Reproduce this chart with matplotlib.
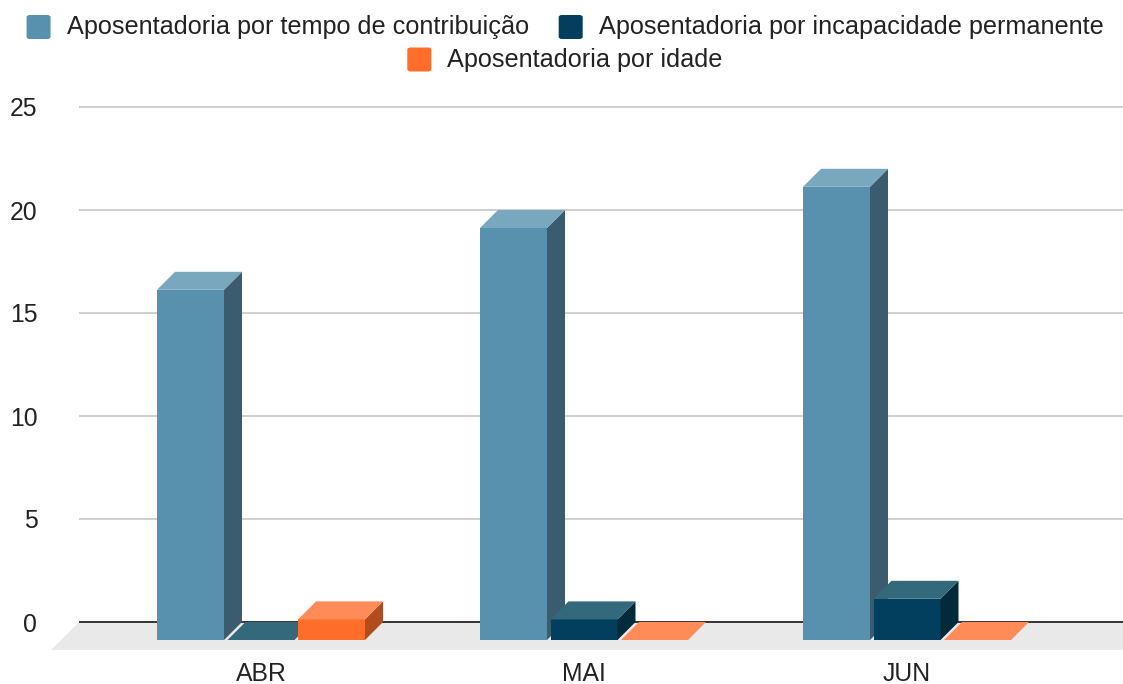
import matplotlib
matplotlib.use("Agg")
import matplotlib.pyplot as plt
from matplotlib.patches import Polygon, FancyBboxPatch

plt.rcParams['font.family'] = ['Liberation Sans', 'DejaVu Sans']

categories = ["ABR", "MAI", "JUN"]
series_names = ["Aposentadoria por tempo de contribuição",
                "Aposentadoria por incapacidade permanente",
                "Aposentadoria por idade"]
tempo_contribuicao = [17, 20, 22]
incapacidade_permanente = [0, 1, 2]
idade = [1, 0, 0]
y_ticks = [0, 5, 10, 15, 20, 25]

series_values = [tempo_contribuicao, incapacidade_permanente, idade]
front_colors = ["#5891ad", "#023f5f", "#ff6d2b"]
top_colors = ["#79a7be", "#34697c", "#ff8b58"]
side_colors = ["#3b5b6f", "#012a3b", "#b24b1d"]

W, H = 1123, 684
fig = plt.figure(figsize=(W / 100, H / 100), dpi=100)

# layout (pixels from top-left)
ax_left, ax_right = 79, 1123
y0_px, y25_px = 622, 107
ppu = (y0_px - y25_px) / 25.0
ymin, ymax = -1.5, 25.5
bottom_px = y0_px + (0 - ymin) * ppu
top_px = y0_px - ymax * ppu
ax = fig.add_axes([ax_left / W, (H - bottom_px) / H,
                   (ax_right - ax_left) / W, (bottom_px - top_px) / H])
cat_step_px = 323.0
first_center_back_px = 279.0
xmin = -(first_center_back_px - ax_left) / cat_step_px
xmax = xmin + (ax_right - ax_left) / cat_step_px
ax.set_xlim(xmin, xmax)
ax.set_ylim(ymin, ymax)
for s in ax.spines.values():
    s.set_visible(False)

# depth in data units
depth_px = 18.0
dx = depth_px / cat_step_px
dy = depth_px / ppu
floor_px = 28.0
fdx = floor_px / cat_step_px
fdy = floor_px / ppu

bar_w = 67.0 / cat_step_px
bar_step = 70.5 / cat_step_px

# floor
floor = Polygon([(xmin, 0), (xmax + fdx, 0), (xmax, -fdy), (xmin - fdx, -fdy)],
                closed=True, facecolor="#e9e9e9", edgecolor="none",
                clip_on=False, zorder=0)
ax.add_patch(floor)

# gridlines
for t in y_ticks:
    if t == 0:
        ax.plot([xmin, xmax], [0, 0], color="#333333", lw=1.4, zorder=1,
                solid_capstyle="butt")
    else:
        ax.plot([xmin, xmax], [t, t], color="#cccccc", lw=1.3, zorder=1,
                solid_capstyle="butt")

# bars
z = 2
for i, cat in enumerate(categories):
    for j, vals in enumerate(series_values):
        v = vals[i]
        fl = i - dx + (j - 1) * bar_step - bar_w / 2  # front left
        fr = fl + bar_w
        if v > 0:
            ax.add_patch(Polygon([(fl, -dy), (fr, -dy), (fr, v - dy), (fl, v - dy)],
                                 closed=True, facecolor=front_colors[j],
                                 edgecolor="none", zorder=z, clip_on=False))
            ax.add_patch(Polygon([(fr, -dy), (fr + dx, 0), (fr + dx, v), (fr, v - dy)],
                                 closed=True, facecolor=side_colors[j],
                                 edgecolor="none", zorder=z, clip_on=False))
        ax.add_patch(Polygon([(fl, v - dy), (fr, v - dy), (fr + dx, v), (fl + dx, v)],
                             closed=True, facecolor=top_colors[j],
                             edgecolor="none", zorder=z, clip_on=False))
        z += 1

# ticks
fs = 17.8
ax.set_yticks(y_ticks)
ax.set_yticklabels([str(t) for t in y_ticks])
ax.set_xticks([i - dx for i in range(len(categories))])
ax.set_xticklabels(categories)
ax.tick_params(axis="y", length=0, pad=30, labelsize=fs, labelcolor="#222222")
ax.tick_params(axis="x", length=0, pad=6.6, labelsize=fs, labelcolor="#222222")

# legend (manual, centered rows)
renderer = fig.canvas.get_renderer()
leg_fs = 18.2
sq = 24
gap_text = 16
gap_item = 30
rows = [[0, 1], [2]]
row_y = [27, 59.5]
cx = 565
for r, items in enumerate(rows):
    widths = []
    texts = []
    for k in items:
        t = fig.text(0, 0, series_names[k], fontsize=leg_fs, color="#222222",
                     va="center", ha="left")
        bb = t.get_window_extent(renderer=renderer)
        widths.append(bb.width)
        texts.append(t)
    total = sum(sq + gap_text + w for w in widths) + gap_item * (len(items) - 1)
    x = cx - total / 2
    yc = row_y[r]
    for k, t, w in zip(items, texts, widths):
        fig.patches.append(FancyBboxPatch((x / W, (H - yc - sq / 2) / H), sq / W, sq / H,
                                          boxstyle="round,pad=0,rounding_size=0.003",
                                          transform=fig.transFigure,
                                          facecolor=front_colors[k], edgecolor="none"))
        t.set_position(((x + sq + gap_text) / W, (H - yc) / H))
        x += sq + gap_text + w + gap_item

fig.savefig("out.png", dpi=100)
